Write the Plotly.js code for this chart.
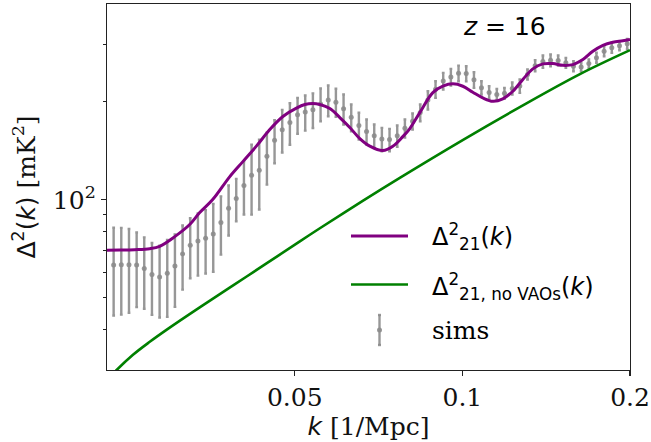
<!DOCTYPE html>
<html>
<head>
<meta charset="utf-8">
<script src="https://cdn.plot.ly/plotly-3.0.1.min.js"></script>
<style>html,body{margin:0;padding:0;background:#fff;}#chart{width:651px;height:442px;}</style>
</head>
<body>
<div id="chart"></div>
<script>
// ---- data ----
const simK = [0.02364,0.02440,0.02519,0.02600,0.02683,0.02770,0.02859,0.02951,0.03046,0.03144,
  0.03245,0.03350,0.03458,0.03569,0.03684,0.03803,0.03925,0.04052,0.04182,0.04317,
  0.04456,0.04599,0.04747,0.04900,0.05058,0.05221,0.05389,0.05563,0.05742,0.05927,
  0.06118,0.06315,0.06518,0.06728,0.06945,0.07168,0.07399,0.07638,0.07884,0.08138,
  0.08400,0.08670,0.08949,0.09238,0.09535,0.09842,0.1016,0.1049,0.1082,0.1117,
  0.1153,0.1190,0.1229,0.1268,0.1309,0.1351,0.1395,0.1440,0.1486,0.1534,
  0.1583,0.1634,0.1687,0.1741,0.1797,0.1855,0.1915,0.1977];
const simMean = [63.1,63.2,63.2,63.1,61.5,59.0,57.9,59.5,62.6,68.2,
  72.6,74.7,76.2,78.6,85.2,94.2,101.0,110.8,119.0,123.3,
  136.2,152.6,164.4,173.0,182.7,186.3,189.4,197.2,202.7,199.7,
  190.6,179.5,169.2,162.3,157.4,153.8,153.2,157.4,166.0,174.4,
  185.5,202.6,218.7,232.0,238.6,245.1,244.5,233.9,221.2,214.0,
  210.9,212.7,220.1,223.9,243.0,258.6,266.2,268.6,268.2,263.9,
  257.6,256.2,262.3,273.5,286.5,293.5,297.8,301.9];
const simErr = [19.0,18.8,18.2,16.3,15.2,14.7,14.4,15.8,15.7,15.2,
  15.2,16.2,16.8,18.5,17.3,16.5,15.0,20.6,28.9,29.9,
  24.8,23.0,24.6,25.2,23.0,23.0,23.1,22.7,21.9,19.8,
  20.2,17.0,16.0,14.4,13.0,12.7,12.1,11.9,10.6,9.9,
  11.0,13.1,12.9,13.7,14.1,13.6,13.0,12.9,10.4,9.6,
  8.5,8.3,9.3,10.6,8.6,10.1,11.6,11.2,9.5,9.3,
  9.1,7.7,7.7,9.7,10.2,10.4,9.5,10.7];

const thK = [0.02300,0.02424,0.02579,0.02745,0.02860,0.03044,0.03238,0.03375,0.03561,0.03822,
  0.04034,0.04273,0.04509,0.04760,0.05043,0.05213,0.05388,0.05547,0.05780,0.06024,
  0.06278,0.06543,0.06819,0.07196,0.07500,0.07817,0.08047,0.08386,0.08850,0.09224,
  0.09613,0.1002,0.1044,0.1088,0.1134,0.1182,0.1232,0.1284,0.1338,0.1395,
  0.1454,0.1515,0.1579,0.1646,0.1715,0.1788,0.1863,0.1942,0.2000];
const thDelta = [70.0,70.1,70.3,70.8,72.0,77.1,84.0,91.4,100.2,117.9,
  131.1,146.8,164.5,180.4,191.8,196.4,197.8,196.4,190.9,179.1,
  166.9,154.3,146.3,141.8,146.1,156.5,165.7,185.5,213.7,223.5,
  227.3,223.5,214.2,205.8,200.9,204.4,215.7,234.4,252.7,261.8,
  262.4,259.2,260.5,270.0,286.3,298.7,305.1,308.2,311.1];

const noVaoK = [0.02300,0.02391,0.02561,0.02745,0.02941,0.03375,0.03875,0.04448,0.05106,0.05547,
  0.06633,0.07720,0.1003,0.1268,0.1626,0.2000];
const noVaoDelta = [27.89,29.94,33.41,36.63,39.85,46.73,54.60,63.79,74.56,81.79,
  99.5,116.9,153.0,192.8,243.5,288.5];

const xTickVals = [0.05, 0.1, 0.2];
const xTickText = ['0.05', '0.1', '0.2'];
const yTickVals = [100];
const yTickText = ['10<sup>2</sup>'];
const yMinorVals = [40, 50, 60, 70, 80, 90, 200, 300];

// ---- drawing ----
const L = 107, R = 630, T = 4, B = 370;
const px = x => (x - L) / (R - L);
const py = y => (B - y) / (B - T);

const gray = 'rgba(140,140,140,0.9)';
const purple = '#800080';
const green = '#008000';

const traces = [
  {x: simK, y: simMean, type: 'scatter', mode: 'markers', name: 'sims',
   marker: {color: gray, size: 5},
   error_y: {type: 'data', array: simErr, visible: true, color: gray, thickness: 2.4, width: 1.4},
   showlegend: false},
  {x: thK, y: thDelta, type: 'scatter', mode: 'lines', name: 'Δ21',
   line: {color: purple, width: 3, shape: 'spline', smoothing: 1}, showlegend: false},
  {x: noVaoK, y: noVaoDelta, type: 'scatter', mode: 'lines', name: 'no VAOs',
   line: {color: green, width: 2.6, shape: 'spline', smoothing: 1}, showlegend: false}
];

const sans = 'DejaVu Sans';
const serif = 'DejaVu Serif';

const shapes = [
  {type: 'line', xref: 'paper', yref: 'paper', x0: px(351), x1: px(408), y0: py(236), y1: py(236),
   line: {color: purple, width: 3}},
  {type: 'line', xref: 'paper', yref: 'paper', x0: px(351), x1: px(408), y0: py(284.5), y1: py(284.5),
   line: {color: green, width: 2.6}},
  {type: 'line', xref: 'paper', yref: 'paper', x0: px(379.5), x1: px(379.5), y0: py(315), y1: py(345),
   line: {color: gray, width: 2.4}},
  {type: 'line', xref: 'paper', yref: 'paper', x0: px(378), x1: px(381), y0: py(315), y1: py(315),
   line: {color: gray, width: 2.4}},
  {type: 'line', xref: 'paper', yref: 'paper', x0: px(378), x1: px(381), y0: py(345), y1: py(345),
   line: {color: gray, width: 2.4}},
  {type: 'circle', xref: 'paper', yref: 'paper', x0: px(377), x1: px(382), y0: py(332.5), y1: py(327.5),
   fillcolor: gray, line: {width: 0}}
];

const annotations = [
  {xref: 'paper', yref: 'paper', x: px(430), y: py(237), xanchor: 'left', yanchor: 'middle', showarrow: false,
   text: 'Δ<sup>2</sup><sub>21</sub>(<i>k</i>)', font: {family: sans, size: 24, color: '#000'}},
  {xref: 'paper', yref: 'paper', x: px(430), y: py(286), xanchor: 'left', yanchor: 'middle', showarrow: false,
   text: 'Δ<sup>2</sup><sub>21, no VAOs</sub>(<i>k</i>)', font: {family: sans, size: 24, color: '#000'}},
  {xref: 'paper', yref: 'paper', x: px(430), y: py(330), xanchor: 'left', yanchor: 'middle', showarrow: false,
   text: 'sims', font: {family: serif, size: 25, color: '#000'}},
  {xref: 'paper', yref: 'paper', x: px(504), y: py(27), xanchor: 'center', yanchor: 'middle', showarrow: false,
   text: '<i>z</i> = 16', font: {family: sans, size: 25, color: '#000'}}
];

const layout = {
  width: 651, height: 442,
  margin: {l: L, r: 651 - R, t: T, b: 442 - B, pad: 0},
  paper_bgcolor: '#fff', plot_bgcolor: '#fff',
  showlegend: false,
  font: {family: serif, size: 25, color: '#111'},
  xaxis: {
    type: 'log', range: [Math.log10(0.023), Math.log10(0.2)],
    tickmode: 'array', tickvals: xTickVals, ticktext: xTickText,
    ticks: 'outside', ticklen: 5, tickwidth: 1.2, tickcolor: '#222',
    showgrid: false, zeroline: false, showline: true, mirror: true, linecolor: '#222', linewidth: 1.2,
    tickfont: {family: serif, size: 25, color: '#111'},
    title: {text: '<span style="font-family:DejaVu Sans"><i>k</i></span> [1/Mpc]', standoff: 1,
            font: {family: serif, size: 25, color: '#111'}},
    automargin: false
  },
  yaxis: {
    type: 'log', range: [Math.log10(30), Math.log10(400)],
    tickmode: 'array', tickvals: yTickVals, ticktext: yTickText,
    ticks: 'outside', ticklen: 5, tickwidth: 1.2, tickcolor: '#222',
    minor: {tickmode: 'array', tickvals: yMinorVals, ticks: 'outside', ticklen: 3, tickwidth: 1, tickcolor: '#222', showgrid: false},
    showgrid: false, zeroline: false, showline: true, mirror: true, linecolor: '#222', linewidth: 1.2,
    tickfont: {family: serif, size: 25, color: '#111'},
    title: {text: '<span style="font-family:DejaVu Sans">Δ<sup>2</sup>(<i>k</i>)</span> [mK<sup>2</sup>]', standoff: 10,
            font: {family: serif, size: 25, color: '#111'}},
    automargin: false
  },
  shapes: shapes,
  annotations: annotations
};

Plotly.newPlot('chart', traces, layout, {staticPlot: true, displayModeBar: false});
</script>
</body>
</html>
